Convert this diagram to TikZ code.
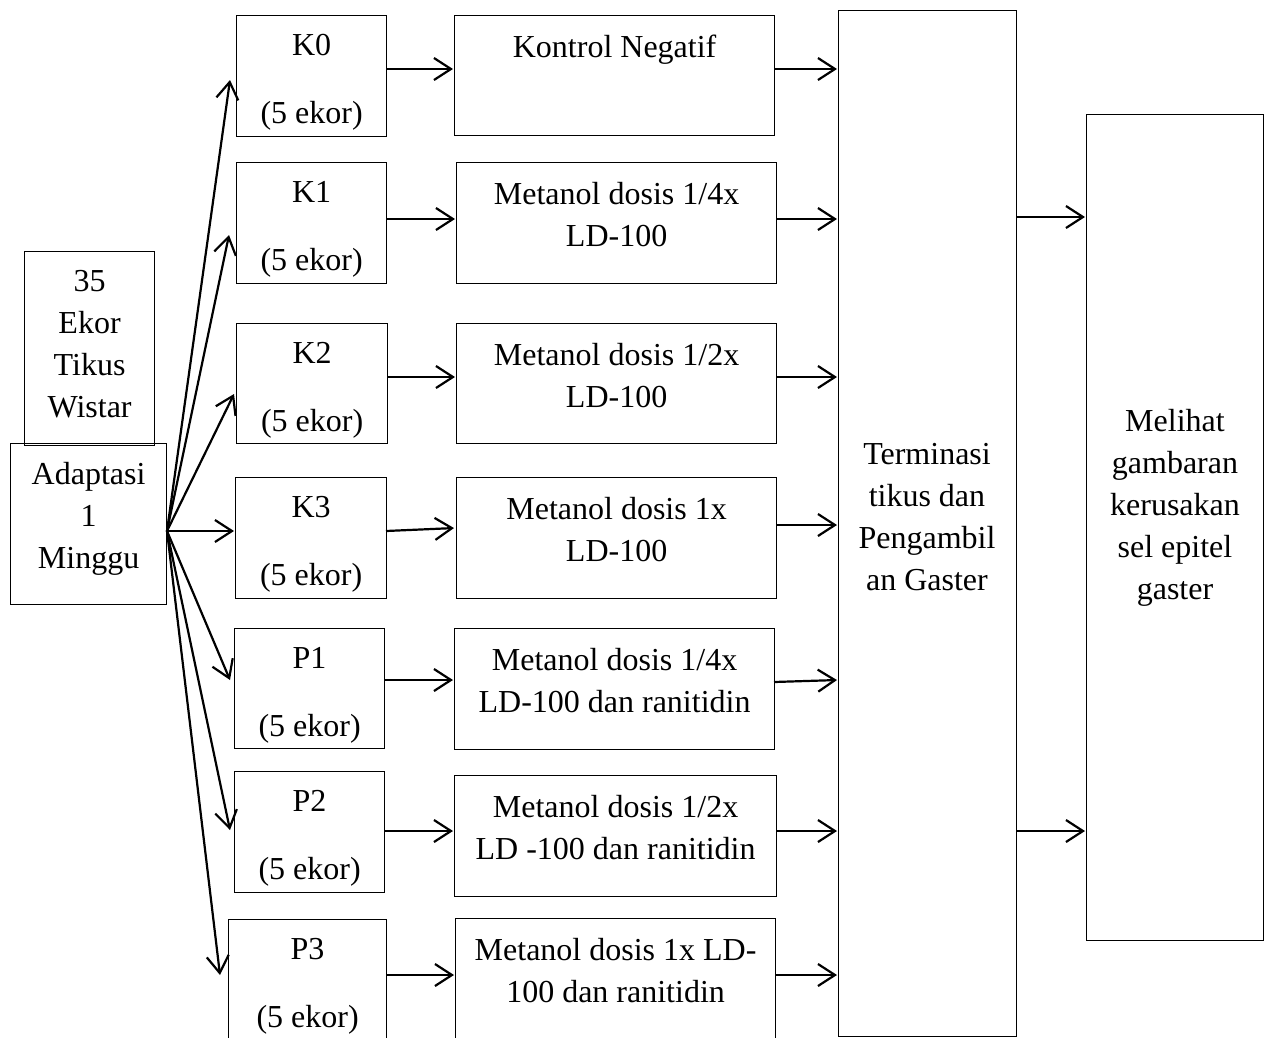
\documentclass[tikz,border=0pt]{standalone}
\usepackage{fontspec}
\setmainfont{Liberation Serif}
\usetikzlibrary{arrows.meta,calc}
\begin{document}
\begin{tikzpicture}[x=1pt,y=-1pt,
  box/.style={draw, line width=1.2pt, inner sep=0pt, anchor=north west},
  txt/.style={font=\fontsize{32}{42}\selectfont, align=center, inner sep=0pt, anchor=north},
  arr/.style={line width=2.2pt, -{Straight Barb[length=17pt,width=22pt]}, shorten >=1pt}
]
\useasboundingbox (0,0) rectangle (1264,1037);
\fill[white] (0,0) rectangle (1264,1037);

% left boxes
\node[box, minimum width=130pt, minimum height=194pt] (ekor) at (24,251) {};
\node[box, minimum width=156pt, minimum height=161pt] (adap) at (10,443) {};
\node[txt] (ekort) at ($(ekor.north)+(0,19)$) {35\\Ekor\\Tikus\\Wistar};
\node[txt] (adapt) at ($(adap.north)+(0,19)$) {Adaptasi\\1\\Minggu};

% group boxes
\node[box, minimum width=150pt, minimum height=121pt] (k0) at (236,15) {};
\node[box, minimum width=150pt, minimum height=121pt] (k1) at (236,162) {};
\node[box, minimum width=151pt, minimum height=120pt] (k2) at (236,323) {};
\node[box, minimum width=151pt, minimum height=121pt] (k3) at (235,477) {};
\node[box, minimum width=150pt, minimum height=120pt] (p1) at (234,628) {};
\node[box, minimum width=150pt, minimum height=121pt] (p2) at (234,771) {};
\node[box, minimum width=158pt, minimum height=130pt] (p3) at (228,919) {};

\node[txt] (k0t) at ($(k0.north)+(0,19)$) {K0\\[26pt](5 ekor)};
\node[txt] (k1t) at ($(k1.north)+(0,19)$) {K1\\[26pt](5 ekor)};
\node[txt] (k2t) at ($(k2.north)+(0,19)$) {K2\\[26pt](5 ekor)};
\node[txt] (k3t) at ($(k3.north)+(0,19)$) {K3\\[26pt](5 ekor)};
\node[txt] (p1t) at ($(p1.north)+(0,19)$) {P1\\[26pt](5 ekor)};
\node[txt] (p2t) at ($(p2.north)+(0,19)$) {P2\\[26pt](5 ekor)};
\node[txt] (p3t) at ($(p3.north)+(0,19)$) {P3\\[26pt](5 ekor)};

% treatment boxes
\node[box, minimum width=320pt, minimum height=120pt] (m0) at (454,15) {};
\node[box, minimum width=320pt, minimum height=121pt] (m1) at (456,162) {};
\node[box, minimum width=320pt, minimum height=120pt] (m2) at (456,323) {};
\node[box, minimum width=320pt, minimum height=121pt] (m3) at (456,477) {};
\node[box, minimum width=320pt, minimum height=121pt] (m4) at (454,628) {};
\node[box, minimum width=322pt, minimum height=121pt] (m5) at (454,775) {};
\node[box, minimum width=320pt, minimum height=130pt] (m6) at (455,918) {};

\node[txt] (m0t) at ($(m0.north)+(0,20)$) {Kontrol Negatif};
\node[txt] (m1t) at ($(m1.north)+(0,20)$) {Metanol dosis 1/4x\\LD-100};
\node[txt] (m2t) at ($(m2.north)+(0,20)$) {Metanol dosis 1/2x\\LD-100};
\node[txt] (m3t) at ($(m3.north)+(0,20)$) {Metanol dosis 1x\\LD-100};
\node[txt] (m4t) at ($(m4.north)+(0,20)$) {Metanol dosis 1/4x\\LD-100 dan ranitidin};
\node[txt] (m5t) at ($(m5.north)+(0,20)$) {Metanol dosis 1/2x\\LD -100 dan ranitidin};
\node[txt] (m6t) at ($(m6.north)+(0,20)$) {Metanol dosis 1x LD-\\100 dan ranitidin};

% right boxes
\node[box, minimum width=178pt, minimum height=1026pt] (term) at (838,10) {};
\node[box, minimum width=177pt, minimum height=826pt] (lihat) at (1086,114) {};
\node[txt] (termt) at (927,443) {Terminasi\\tikus dan\\Pengambil\\an Gaster};
\node[txt] (lihatt) at (1175,409) {Melihat\\gambaran\\kerusakan\\sel epitel\\gaster};

% fan arrows
\coordinate (src) at (167,531);
\coordinate (t0) at (230,80);
\coordinate (t1) at (229,235);
\coordinate (t2) at (234,394);
\coordinate (t3) at (234,531);
\coordinate (t4) at (230,680);
\coordinate (t5) at (230,830);
\coordinate (t6) at (220,975);
\foreach \i in {0,...,6}{\draw[arr, shorten >=0pt] (src) -- (t\i);}

% row coordinates
\coordinate (r0) at (0,69);
\coordinate (r1) at (0,219);
\coordinate (r2) at (0,377);
\coordinate (r4) at (0,680);
\coordinate (r5) at (0,831);
\coordinate (r6) at (0,975);

\draw[arr] (k0.east |- r0) -- (m0.west |- r0);
\draw[arr] (k1.east |- r1) -- (m1.west |- r1);
\draw[arr] (k2.east |- r2) -- (m2.west |- r2);
\coordinate (k3a) at (386,531);
\coordinate (m3a) at (455,528);
\draw[arr] (k3a) -- (m3a);
\draw[arr] (p1.east |- r4) -- (m4.west |- r4);
\draw[arr] (p2.east |- r5) -- (m5.west |- r5);
\draw[arr] (p3.east |- r6) -- (m6.west |- r6);

\coordinate (s3) at (0,525);
\coordinate (m4a) at (774,682);
\coordinate (t4a) at (838,680);
\draw[arr] (m0.east |- r0) -- (term.west |- r0);
\draw[arr] (m1.east |- r1) -- (term.west |- r1);
\draw[arr] (m2.east |- r2) -- (term.west |- r2);
\draw[arr] (m3.east |- s3) -- (term.west |- s3);
\draw[arr] (m4a) -- (t4a);
\draw[arr] (m5.east |- r5) -- (term.west |- r5);
\draw[arr] (m6.east |- r6) -- (term.west |- r6);

\coordinate (q1) at (0,217);
\coordinate (q2) at (0,831);
\draw[arr] (term.east |- q1) -- (lihat.west |- q1);
\draw[arr] (term.east |- q2) -- (lihat.west |- q2);
\end{tikzpicture}
\end{document}
